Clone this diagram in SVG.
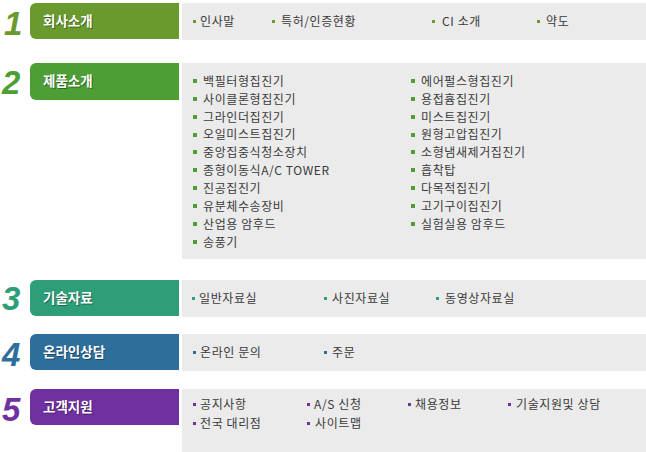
<svg xmlns="http://www.w3.org/2000/svg" width="646" height="452" viewBox="0 0 646 452">
<defs>
<style>
.num{font-family:"Liberation Sans",Arial,sans-serif;font-weight:bold;font-style:italic;font-size:33px}
.tab{font-family:"Noto Sans CJK KR","Liberation Sans",sans-serif;font-weight:bold;font-size:13.5px;fill:#fff}
.tsh{font-family:"Noto Sans CJK KR","Liberation Sans",sans-serif;font-weight:bold;font-size:13.5px;fill:#000;opacity:0.35}
.it{font-family:"Noto Sans CJK KR","Liberation Sans",sans-serif;font-size:12px;letter-spacing:0.6px;fill:#3a3a3a}
.box{fill:#ebebeb}
</style>
</defs>
<rect width="646" height="452" fill="#fff"/>

<g id="sec1">
<text class="num" x="4" y="35" fill="#6a9a2e">1</text>
<path d="M36 3H179V39H36A6 6 0 0 1 30 33V9A6 6 0 0 1 36 3Z" fill="#6a9a2e"/>
<text class="tsh" x="44" y="27">회사소개</text>
<text class="tab" x="43" y="26">회사소개</text>
<rect class="box" x="182" y="3" width="464" height="37"/>
<g fill="#6a9a2e"><rect x="193" y="20" width="3" height="3"/><rect x="272" y="20" width="3" height="3"/><rect x="432" y="20" width="3" height="3"/><rect x="537" y="20" width="3" height="3"/></g>
<text class="it" x="200" y="26">인사말</text>
<text class="it" x="281" y="26">특허/인증현황</text>
<text class="it" x="442" y="26">CI 소개</text>
<text class="it" x="546" y="26">약도</text>
</g>

<g id="sec2">
<text class="num" x="2" y="94" fill="#4d9e35">2</text>
<path d="M36 63H179V100H36A6 6 0 0 1 30 94V69A6 6 0 0 1 36 63Z" fill="#4d9e35"/>
<text class="tsh" x="44" y="87">제품소개</text>
<text class="tab" x="43" y="86">제품소개</text>
<rect class="box" x="182" y="63" width="464" height="196"/>
<g fill="#4d9e35">
<rect x="193" y="79" width="4" height="4"/><rect x="193" y="97" width="4" height="4"/><rect x="193" y="115" width="4" height="4"/><rect x="193" y="133" width="4" height="4"/><rect x="193" y="150" width="4" height="4"/><rect x="193" y="168" width="4" height="4"/><rect x="193" y="186" width="4" height="4"/><rect x="193" y="204" width="4" height="4"/><rect x="193" y="222" width="4" height="4"/><rect x="193" y="240" width="4" height="4"/>
<rect x="411" y="79" width="4" height="4"/><rect x="411" y="97" width="4" height="4"/><rect x="411" y="115" width="4" height="4"/><rect x="411" y="133" width="4" height="4"/><rect x="411" y="150" width="4" height="4"/><rect x="411" y="168" width="4" height="4"/><rect x="411" y="186" width="4" height="4"/><rect x="411" y="204" width="4" height="4"/><rect x="411" y="222" width="4" height="4"/>
</g>
<text class="it" x="203" y="85.5">백필터형집진기</text>
<text class="it" x="203" y="103.5">사이클론형집진기</text>
<text class="it" x="203" y="121.5">그라인더집진기</text>
<text class="it" x="203" y="139">오일미스트집진기</text>
<text class="it" x="203" y="156.5">중앙집중식청소장치</text>
<text class="it" x="203" y="174.5">종형이동식A/C TOWER</text>
<text class="it" x="203" y="192.5">진공집진기</text>
<text class="it" x="203" y="210.5">유분체수송장비</text>
<text class="it" x="203" y="228.5">산업용 암후드</text>
<text class="it" x="203" y="246.5">송풍기</text>
<text class="it" x="421" y="85.5">에어펄스형집진기</text>
<text class="it" x="421" y="103.5">용접흄집진기</text>
<text class="it" x="421" y="121.5">미스트집진기</text>
<text class="it" x="421" y="139">원형고압집진기</text>
<text class="it" x="421" y="156.5">소형냄새제거집진기</text>
<text class="it" x="421" y="174.5">흡착탑</text>
<text class="it" x="421" y="192.5">다목적집진기</text>
<text class="it" x="421" y="210.5">고기구이집진기</text>
<text class="it" x="421" y="228.5">실험실용 암후드</text>
</g>

<g id="sec3">
<text class="num" x="2" y="310" fill="#2e9e78">3</text>
<path d="M36 280H179V316H36A6 6 0 0 1 30 310V286A6 6 0 0 1 36 280Z" fill="#2e9e78"/>
<text class="tsh" x="44" y="304">기술자료</text>
<text class="tab" x="43" y="303">기술자료</text>
<rect class="box" x="182" y="280" width="464" height="37"/>
<g fill="#2e9e78"><rect x="192" y="297" width="3" height="3"/><rect x="324" y="297" width="3" height="3"/><rect x="436" y="297" width="3" height="3"/></g>
<text class="it" x="199" y="303">일반자료실</text>
<text class="it" x="332" y="303">사진자료실</text>
<text class="it" x="445" y="303">동영상자료실</text>
</g>

<g id="sec4">
<text class="num" x="2" y="366" fill="#2e6e9a">4</text>
<path d="M36 334H179V370H36A6 6 0 0 1 30 364V340A6 6 0 0 1 36 334Z" fill="#2e6e9a"/>
<text class="tsh" x="44" y="358">온라인상담</text>
<text class="tab" x="43" y="357">온라인상담</text>
<rect class="box" x="182" y="334" width="464" height="37"/>
<g fill="#2e6e9a"><rect x="193" y="351" width="3" height="3"/><rect x="324" y="351" width="3" height="3"/></g>
<text class="it" x="200" y="357">온라인 문의</text>
<text class="it" x="332" y="357">주문</text>
</g>

<g id="sec5">
<text class="num" x="2" y="421" fill="#7030a0">5</text>
<path d="M36 389H179V425H36A6 6 0 0 1 30 419V395A6 6 0 0 1 36 389Z" fill="#7030a0"/>
<text class="tsh" x="44" y="413">고객지원</text>
<text class="tab" x="43" y="412">고객지원</text>
<rect class="box" x="182" y="389" width="464" height="63"/>
<g fill="#7030a0"><rect x="193" y="403" width="3" height="3"/><rect x="307" y="403" width="3" height="3"/><rect x="408" y="403" width="3" height="3"/><rect x="508" y="403" width="3" height="3"/><rect x="193" y="422" width="3" height="3"/><rect x="307" y="422" width="3" height="3"/></g>
<text class="it" x="200" y="409">공지사항</text>
<text class="it" x="314" y="409">A/S 신청</text>
<text class="it" x="415" y="409">채용정보</text>
<text class="it" x="516" y="409">기술지원및 상담</text>
<text class="it" x="200" y="428">전국 대리점</text>
<text class="it" x="315" y="428">사이트맵</text>
</g>
</svg>
